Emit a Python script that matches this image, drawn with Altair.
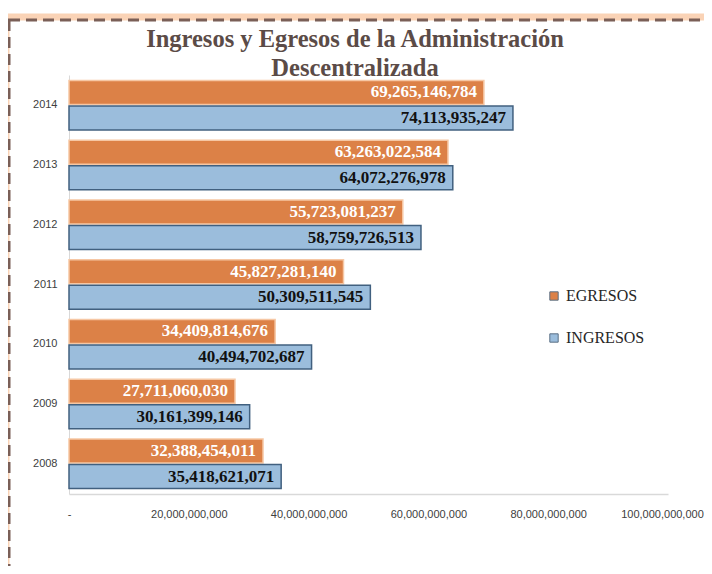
import altair as alt
import pandas as pd

years = ["2014", "2013", "2012", "2011", "2010", "2009", "2008"]
egresos = [69265146784, 63263022584, 55723081237, 45827281140, 34409814676, 27711060030, 32388454011]
ingresos = [74113935247, 64072276978, 58759726513, 50309511545, 40494702687, 30161399146, 35418621071]
series = ["EGRESOS", "INGRESOS"]
x_ticks = [0, 20000000000, 40000000000, 60000000000, 80000000000, 100000000000]
title_lines = ["Ingresos y Egresos de la Administración", "Descentralizada"]

rows = []
for y, e, i in zip(years, egresos, ingresos):
    rows.append({"year": y, "serie": "EGRESOS", "value": e})
    rows.append({"year": y, "serie": "INGRESOS", "value": i})
df = pd.DataFrame(rows)

W, H = 599, 419

y_enc = alt.Y("year:N", sort=years,
              scale=alt.Scale(paddingInner=0.17, paddingOuter=0.09),
              axis=alt.Axis(title=None, ticks=False, domain=True, domainColor="#d9d9d9",
                            labelFont="Liberation Sans", labelFontSize=11, labelColor="#404040",
                            labelPadding=12))
yoff = alt.YOffset("serie:N", sort=series, scale=alt.Scale(paddingInner=0.06))
x_enc = alt.X("value:Q", scale=alt.Scale(domain=[0, 100000000000], nice=False),
              axis=alt.Axis(title=None, values=x_ticks, grid=False, ticks=False,
                            domainColor="#d9d9d9", domainWidth=1.5,
                            labelExpr="datum.value == 0 ? '-' : format(datum.value, ',')",
                            labelOffset=alt.ExprRef("datum.value == 100000000000 ? -6 : 0"),
                            labelFont="Liberation Sans", labelFontSize=11, labelColor="#404040",
                            labelPadding=14, labelFlush=False))

color = alt.Color("serie:N", sort=series,
                  scale=alt.Scale(domain=series, range=["#DC8147", "#9BBDDC"]),
                  legend=alt.Legend(title=None, orient="none", legendX=477, legendY=213,
                                    symbolType="square", symbolSize=70,
                                    symbolStrokeColor="#5a6f85", symbolStrokeWidth=1,
                                    labelFont="Liberation Serif", labelFontSize=16,
                                    labelColor="#262626", rowPadding=26, labelOffset=4))
stroke = alt.Stroke("serie:N", sort=series,
                    scale=alt.Scale(domain=series, range=["#F6C7A4", "#41607F"]), legend=None)

base = alt.Chart(df)
bars = base.mark_bar(strokeWidth=1.5).encode(y=y_enc, yOffset=yoff, x=x_enc, color=color, stroke=stroke)
labels = base.mark_text(align="right", baseline="middle", dx=-7, font="Liberation Serif",
                        fontWeight="bold", fontSize=17).encode(
    y=alt.Y("year:N", sort=years), yOffset=alt.YOffset("serie:N", sort=series),
    x="value:Q", text=alt.Text("value:Q", format=","),
    color=alt.Color("serie:N", sort=series,
                    scale=alt.Scale(domain=series, range=["#FFFFFF", "#111111"]), legend=None))

one = pd.DataFrame({"a": [0]})
glow = alt.Chart(one).mark_rect(
    fill=None, stroke="#FAD3B6", strokeWidth=7).encode(
    x=alt.value(-63), x2=alt.value(660), y=alt.value(-58), y2=alt.value(560))
frame = alt.Chart(one).mark_rect(
    fill=None, stroke="#7A5F57", strokeWidth=3, strokeDash=[11, 6]).encode(
    x=alt.value(-60), x2=alt.value(660), y=alt.value(-55), y2=alt.value(497))

title_style = dict(font="Liberation Serif", fontSize=24.5, fontWeight="bold", color="#5B4B47",
                   align="center", baseline="alphabetic")
title1 = alt.Chart(pd.DataFrame({"t": [title_lines[0]]})).mark_text(**title_style).encode(
    text="t:N", x=alt.value(286), y=alt.value(-28))
title2 = alt.Chart(pd.DataFrame({"t": [title_lines[1]]})).mark_text(**title_style).encode(
    text="t:N", x=alt.value(286), y=alt.value(1))

chart = alt.layer(glow, frame, bars, labels, title1, title2).resolve_scale(
    color="independent").properties(
    width=W, height=H,
    autosize=alt.AutoSizeParams(type="none"),
    padding={"left": 61, "top": 67, "right": 36, "bottom": 72},
).configure_view(stroke=None)

chart.save("out.html", embed_options={"renderer": "svg", "actions": False})
